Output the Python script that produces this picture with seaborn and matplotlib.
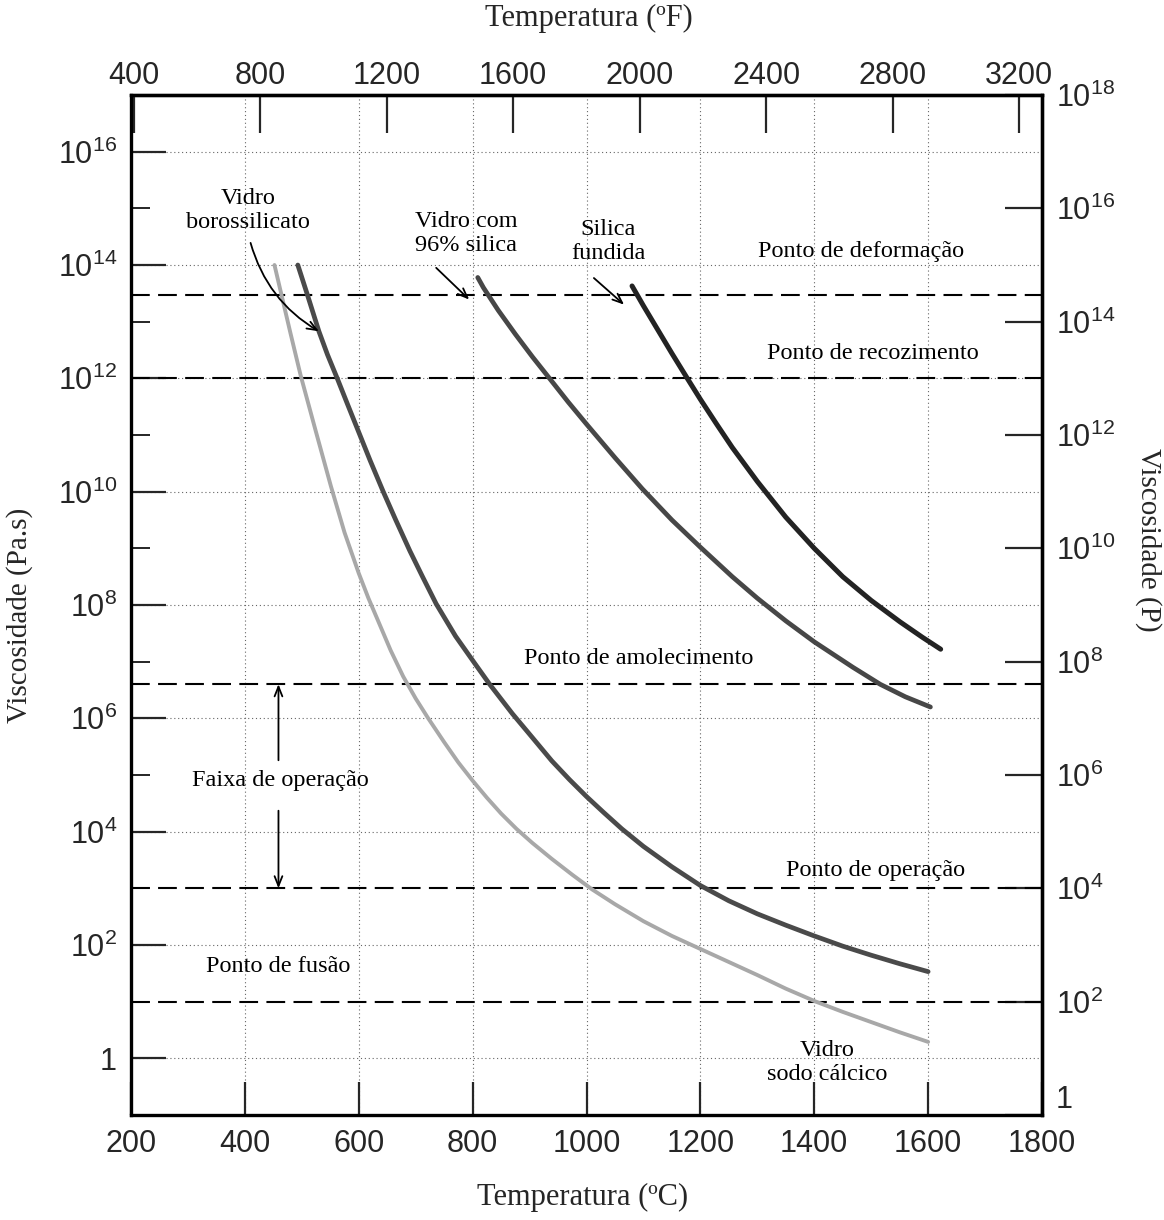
import matplotlib
matplotlib.use("Agg")
import matplotlib.pyplot as plt
from matplotlib.ticker import NullLocator, NullFormatter
import seaborn as sns
import pandas as pd
import numpy as np

# ---------------- data (temperature in °C, log10 of viscosity in Pa.s) ----------------
glass_names = ["Vidro sodo cálcico", "Vidro borossilicato",
               "Vidro com 96% silica", "Silica fundida"]

soda_temp = [452, 466, 480, 498, 525, 551, 575, 600, 617, 634, 656, 678, 700,
             722, 750, 775, 800, 825, 850, 877, 905, 939, 975, 1010, 1050,
             1100, 1150, 1200, 1250, 1300, 1350, 1403, 1450, 1500, 1550, 1600]
soda_log_visc = [14.0, 13.4, 12.8, 12.05, 11.05, 10.1, 9.28, 8.56, 8.12, 7.72,
                 7.2, 6.74, 6.35, 6.0, 5.58, 5.22, 4.9, 4.6, 4.32, 4.05, 3.8,
                 3.52, 3.24, 2.98, 2.72, 2.42, 2.16, 1.93, 1.7, 1.47, 1.23, 1.0,
                 0.82, 0.64, 0.46, 0.29]

boro_temp = [493, 509, 530, 545, 563, 580, 602, 620, 643, 665, 690, 712, 736,
             770, 803, 830, 870, 900, 939, 970, 1000, 1030, 1062, 1100, 1150,
             1200, 1250, 1300, 1350, 1400, 1450, 1500, 1550, 1600]
boro_log_visc = [14.0, 13.5, 12.83, 12.42, 11.98, 11.55, 11.0, 10.55, 10.0,
                 9.5, 8.95, 8.5, 8.02, 7.45, 6.98, 6.6, 6.08, 5.72, 5.25, 4.92,
                 4.62, 4.34, 4.05, 3.74, 3.38, 3.05, 2.78, 2.55, 2.35, 2.16,
                 1.98, 1.82, 1.67, 1.53]

silica96_temp = [809, 819, 845, 875, 905, 935, 968, 1001, 1050, 1098, 1150,
                 1200, 1256, 1300, 1350, 1400, 1468, 1516, 1560, 1604]
silica96_log_visc = [13.78, 13.6, 13.2, 12.78, 12.38, 12.0, 11.58, 11.18, 10.6,
                     10.05, 9.5, 9.02, 8.5, 8.12, 7.72, 7.35, 6.9, 6.6, 6.38,
                     6.2]

fused_temp = [1080, 1100, 1125, 1150, 1177, 1200, 1228, 1256, 1300, 1350, 1400,
              1450, 1500, 1551, 1590, 1622]
fused_log_visc = [13.63, 13.28, 12.86, 12.44, 12.0, 11.63, 11.2, 10.78, 10.18,
                  9.55, 9.0, 8.5, 8.08, 7.7, 7.43, 7.22]

ref_names = ["Ponto de deformação", "Ponto de recozimento",
             "Ponto de amolecimento", "Ponto de operação", "Ponto de fusão"]
ref_visc = [3e13, 1e12, 4e6, 1e3, 1e1]

c_ticks = [200, 400, 600, 800, 1000, 1200, 1400, 1600, 1800]
f_ticks = [400, 800, 1200, 1600, 2000, 2400, 2800, 3200]
pas_exponents = [0, 2, 4, 6, 8, 10, 12, 14, 16]
pas_minor_exponents = [1, 3, 5, 7, 9, 11, 13, 15]
poise_exponents = [0, 2, 4, 6, 8, 10, 12, 14, 16, 18]

# ---------------- style ----------------
sns.set_style("white")
plt.rcParams['font.family'] = ['Liberation Serif', 'DejaVu Serif']
plt.rcParams['mathtext.fontset'] = 'custom'
plt.rcParams['mathtext.rm'] = 'Liberation Sans'
plt.rcParams['mathtext.it'] = 'Liberation Sans:italic'
plt.rcParams['mathtext.bf'] = 'Liberation Sans:bold'

W, H = 1164, 1220
fig = plt.figure(figsize=(W / 100, H / 100), dpi=100)
L, R, T, B = 131, 1042, 95, 1115
ax = fig.add_axes([L / W, 1 - B / H, (R - L) / W, (B - T) / H])
ax.set_yscale('log')

frames = []
for name, tt, lv in zip(glass_names,
                        [soda_temp, boro_temp, silica96_temp, fused_temp],
                        [soda_log_visc, boro_log_visc, silica96_log_visc, fused_log_visc]):
    frames.append(pd.DataFrame({'temp': tt, 'visc': 10.0 ** np.asarray(lv), 'vidro': name}))
df = pd.concat(frames, ignore_index=True)

line_style = {
    "Vidro sodo cálcico": ('#a8a8a8', 2.8),
    "Vidro borossilicato": ('#4a4a4a', 3.4),
    "Vidro com 96% silica": ('#474747', 3.4),
    "Silica fundida": ('#232323', 3.6),
}
for name in glass_names:
    g = df[df['vidro'] == name]
    col, lw = line_style[name]
    sns.lineplot(data=g, x='temp', y='visc', color=col, linewidth=lw,
                 estimator=None, legend=False, ax=ax, zorder=4)
for ln in ax.get_lines():
    ln.set_solid_joinstyle('round')

for v in ref_visc:
    ax.axhline(v, color='black', lw=1.5, ls=(0, (9, 4)), zorder=3)

ax.set_xlim(200, 1800)
ax.set_ylim(0.1, 1e17)
ax.set_xlabel('')
ax.set_ylabel('')

ax.set_xticks(c_ticks)
ax.set_xticklabels([str(t) for t in c_ticks])
ax.set_yticks([10.0 ** e for e in pas_exponents])
ax.set_yticklabels(['1'] + [r'$\mathrm{10^{%d}}$' % e for e in pas_exponents[1:]])
ax.set_yticks([10.0 ** e for e in pas_minor_exponents], minor=True)
ax.yaxis.set_minor_formatter(NullFormatter())
ax.grid(True, which='major', color='0.4', lw=0.8, ls=(0, (1, 2.5)), zorder=1)
ax.grid(False, which='minor')

ax.tick_params(axis='x', which='major', direction='in', length=24, width=1.6,
               labelsize=22, pad=10, labelfontfamily='Liberation Sans',
               bottom=True, top=False)
ax.tick_params(axis='y', which='major', direction='in', length=25, width=1.6,
               labelsize=22, pad=10, labelfontfamily='Liberation Sans',
               left=True, right=False)
ax.tick_params(axis='y', which='minor', direction='in', length=14, width=1.4,
               left=True, right=False)
for s in ax.spines.values():
    s.set_linewidth(2.4)
    s.set_color('black')
    s.set_visible(True)

# top axis in °F
secx = ax.secondary_xaxis('top', functions=(lambda c: c * 9 / 5 + 32,
                                            lambda f: (f - 32) * 5 / 9))
secx.set_xticks(f_ticks)
secx.set_xticklabels([str(f) for f in f_ticks])
secx.xaxis.set_minor_locator(NullLocator())
secx.tick_params(direction='in', length=27, width=1.6, labelsize=22, pad=3,
                 labelfontfamily='Liberation Sans')
secx.spines['top'].set_linewidth(2.4)

# right axis in poise
secy = ax.secondary_yaxis('right', functions=(lambda v: v * 10,
                                              lambda v: v / 10))
secy.set_yticks([10.0 ** e for e in poise_exponents])
secy.set_yticklabels(['1'] + [r'$\mathrm{10^{%d}}$' % e for e in poise_exponents[1:]])
secy.yaxis.set_minor_locator(NullLocator())
secy.tick_params(direction='in', length=27, width=1.6, labelsize=22, pad=10,
                 labelfontfamily='Liberation Sans')
secy.spines['right'].set_linewidth(2.4)

# axis titles
fig.text(583 / W, 1 - 1197 / H, 'Temperatura (ºC)', ha='center', va='center', fontsize=22)
fig.text(589 / W, 1 - 18 / H, 'Temperatura (ºF)', ha='center', va='center', fontsize=22)
fig.text(20 / W, 1 - 615 / H, 'Viscosidade (Pa.s)', ha='center', va='center',
         rotation=90, fontsize=21)
fig.text(1148 / W, 1 - 540 / H, 'Viscosidade (P)', ha='center', va='center',
         rotation=270, fontsize=21)

# annotations
txt = dict(ha='center', va='center', fontsize=17.5, color='black', zorder=6)
ax.text(406, 10 ** 14.96, 'Vidro\nborossilicato', **txt)
ax.text(789, 10 ** 14.55, 'Vidro com\n96% silica', **txt)
ax.text(1038, 10 ** 14.41, 'Silica\nfundida', **txt)
ax.text(1482, 10 ** 14.23, ref_names[0], **txt)
ax.text(1503, 10 ** 12.43, ref_names[1], **txt)
ax.text(1092, 10 ** 7.06, ref_names[2], **txt)
ax.text(1507, 10 ** 3.31, ref_names[3], **txt)
ax.text(459, 10 ** 1.62, ref_names[4], **txt)
ax.text(463, 10 ** 4.90, 'Faixa de operação', **txt)
ax.text(1422, 10 ** -0.08, 'Vidro\nsodo cálcico', **txt)

arr = dict(arrowstyle='->,head_length=0.7,head_width=0.28', lw=1.3,
           color='black', shrinkA=0, shrinkB=0)
ax.annotate('', xy=(530, 10 ** 12.83), xytext=(410, 10 ** 14.39),
            arrowprops=dict(arr, connectionstyle='arc3,rad=0.2'), zorder=6)
ax.annotate('', xy=(794, 10 ** 13.39), xytext=(736, 10 ** 13.95),
            arrowprops=arr, zorder=6)
ax.annotate('', xy=(1066, 10 ** 13.30), xytext=(1013, 10 ** 13.77),
            arrowprops=arr, zorder=6)
ax.annotate('', xy=(459, 4e6), xytext=(459, 10 ** 5.26), arrowprops=arr, zorder=6)
ax.annotate('', xy=(459, 1e3), xytext=(459, 10 ** 4.37), arrowprops=arr, zorder=6)

fig.canvas.draw()
for lbl in secy.get_yticklabels():
    if lbl.get_text() == '1':
        lbl.set_verticalalignment('bottom')

fig.savefig('out.png', dpi=100)
